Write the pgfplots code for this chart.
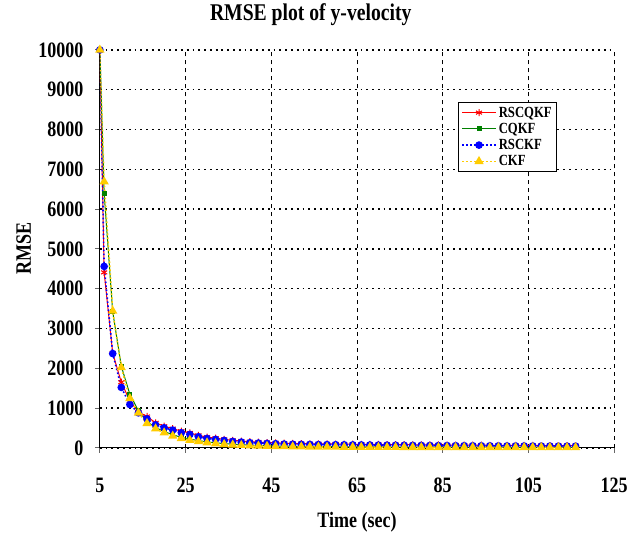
\documentclass[border=0pt]{standalone}
\usepackage{fontspec}
\setmainfont{Liberation Serif}[FakeStretch=0.82]
\usepackage{pgfplots}
\usepackage{pgfplotstable}
\pgfplotsset{compat=1.18}
\definecolor{ckfyel}{RGB}{255,204,0}
\definecolor{cqgreen}{RGB}{0,128,0}

% t, RSCQKF, CQKF, RSCKF, CKF
\pgfplotstableread{
t   rscqkf cqkf  rsckf ckf
5   10000  10000 10000 10000
6   4410   6400  4560  6690
8   2380   3420  2370  3440
10  1650   2055  1520  2020
12  1180   1345  1090  1245
14  900    930   880   880
16  790    660   730   615
18  630    510   580   480
20  545    410   505   380
22  485    330   448   300
24  420    265   381   240
26  375    220   339   195
28  315    182   280   160
30  270    152   238   130
32  245    128   214   108
34  215    108   188   90
36  190    92    163   76
38  172    80    147   65
40  155    70    130   56
42  145    62    122   49
44  135    55    113   43
46  127    49    105   38
48  118    44    96    34
50  112    40    92    31
52  108    37    89    28
54  104    34    86    26
56  101    32    84    24
58  99     30    82    22
60  97     28    80    21
62  94     27    78    20
64  92     26    76    19
66  90     25    74    18
68  88     24    72    17
70  86     23    70    16
72  84     22    68    15
74  82     21    66    15
76  80     21    65    14
78  78     20    63    14
80  77     20    62    13
82  75     19    60    13
84  74     19    59    13
86  72     18    58    12
88  71     18    56    12
90  70     18    55    12
92  69     17    54    12
94  67     17    53    11
96  66     17    52    11
98  65     16    51    11
100 64     16    50    11
102 63     16    49    10
104 62     16    48    10
106 61     15    47    10
108 60     15    46    10
110 59     15    46    10
112 58     15    45    10
114 57     15    44    10
116 57     15    44    10
}\rmse

\begin{document}
\begin{tikzpicture}
\begin{axis}[
    scale only axis,
    width=515pt, height=398.5pt,
    xmin=5, xmax=125, ymin=0, ymax=10000,
    xtick={5,25,...,125},
    ytick={0,1000,...,10000},
    axis x line*=bottom, axis y line*=left,
    axis line style={black, line width=1.2pt},
    tick align=outside,
    major tick length=5pt,
    tick style={black!60, line width=1pt},
    grid=major,
    x grid style={black, line width=0.9pt, dash pattern=on 4pt off 4pt},
    y grid style={black, line width=1.5pt, dash pattern=on 1.8pt off 4pt},
    scaled y ticks=false,
    /pgf/number format/assume math mode=true,
    /pgf/number format/set thousands separator={},
    tick label style={font=\fontsize{22}{24}\selectfont\bfseries},
    xticklabel style={anchor=base, yshift=-40pt},
    yticklabel style={anchor=east, xshift=-8pt},
    title={RMSE plot of y-velocity},
    title style={font=\fontsize{24}{28}\selectfont\bfseries, at={(axis description cs:0.41,1)}, anchor=base, yshift=23pt},
    xlabel={Time (sec)},
    xlabel style={font=\fontsize{22}{24}\selectfont\bfseries, at={(axis description cs:0.5,0)}, anchor=base, yshift=-80pt},
    ylabel={RMSE},
    ylabel style={font=\fontsize{22}{24}\selectfont\bfseries, at={(axis description cs:-0.134,0.5)}, anchor=base},
    legend cell align=left,
    legend style={at={(axis description cs:0.697,0.8695)}, anchor=north west,
        draw=black, line width=0.8pt, fill=white,
        font=\fontsize{15.5}{17}\selectfont\bfseries,
        inner sep=2.5pt, row sep=0.5pt},
    legend image code/.code={\draw[mark repeat=2, mark phase=2] plot coordinates {(0pt,0pt) (17pt,0pt) (34pt,0pt)};},
]
\addplot[red, line width=1pt, mark=asterisk, mark size=3.5pt, mark options={solid, line width=1pt}] table[x=t, y=rscqkf] {\rmse};
\addlegendentry{RSCQKF}
\addplot[cqgreen, line width=1pt, mark=square*, mark size=2pt, mark options={solid}] table[x=t, y=cqkf] {\rmse};
\addlegendentry{CQKF}
\addplot[blue, line width=1.6pt, dash pattern=on 1.6pt off 2.4pt, mark=*, mark size=3pt, mark options={solid}] table[x=t, y=rsckf] {\rmse};
\addlegendentry{RSCKF}
\addplot[ckfyel, line width=1.6pt, dash pattern=on 1.6pt off 2.4pt, mark=triangle*, mark size=3.8pt, mark options={solid}] table[x=t, y=ckf] {\rmse};
\addlegendentry{CKF}
\end{axis}
\path[use as bounding box] (current axis.south west) ++(-100pt,-87.5pt) rectangle ++(631pt,536pt);
\end{tikzpicture}
\end{document}
